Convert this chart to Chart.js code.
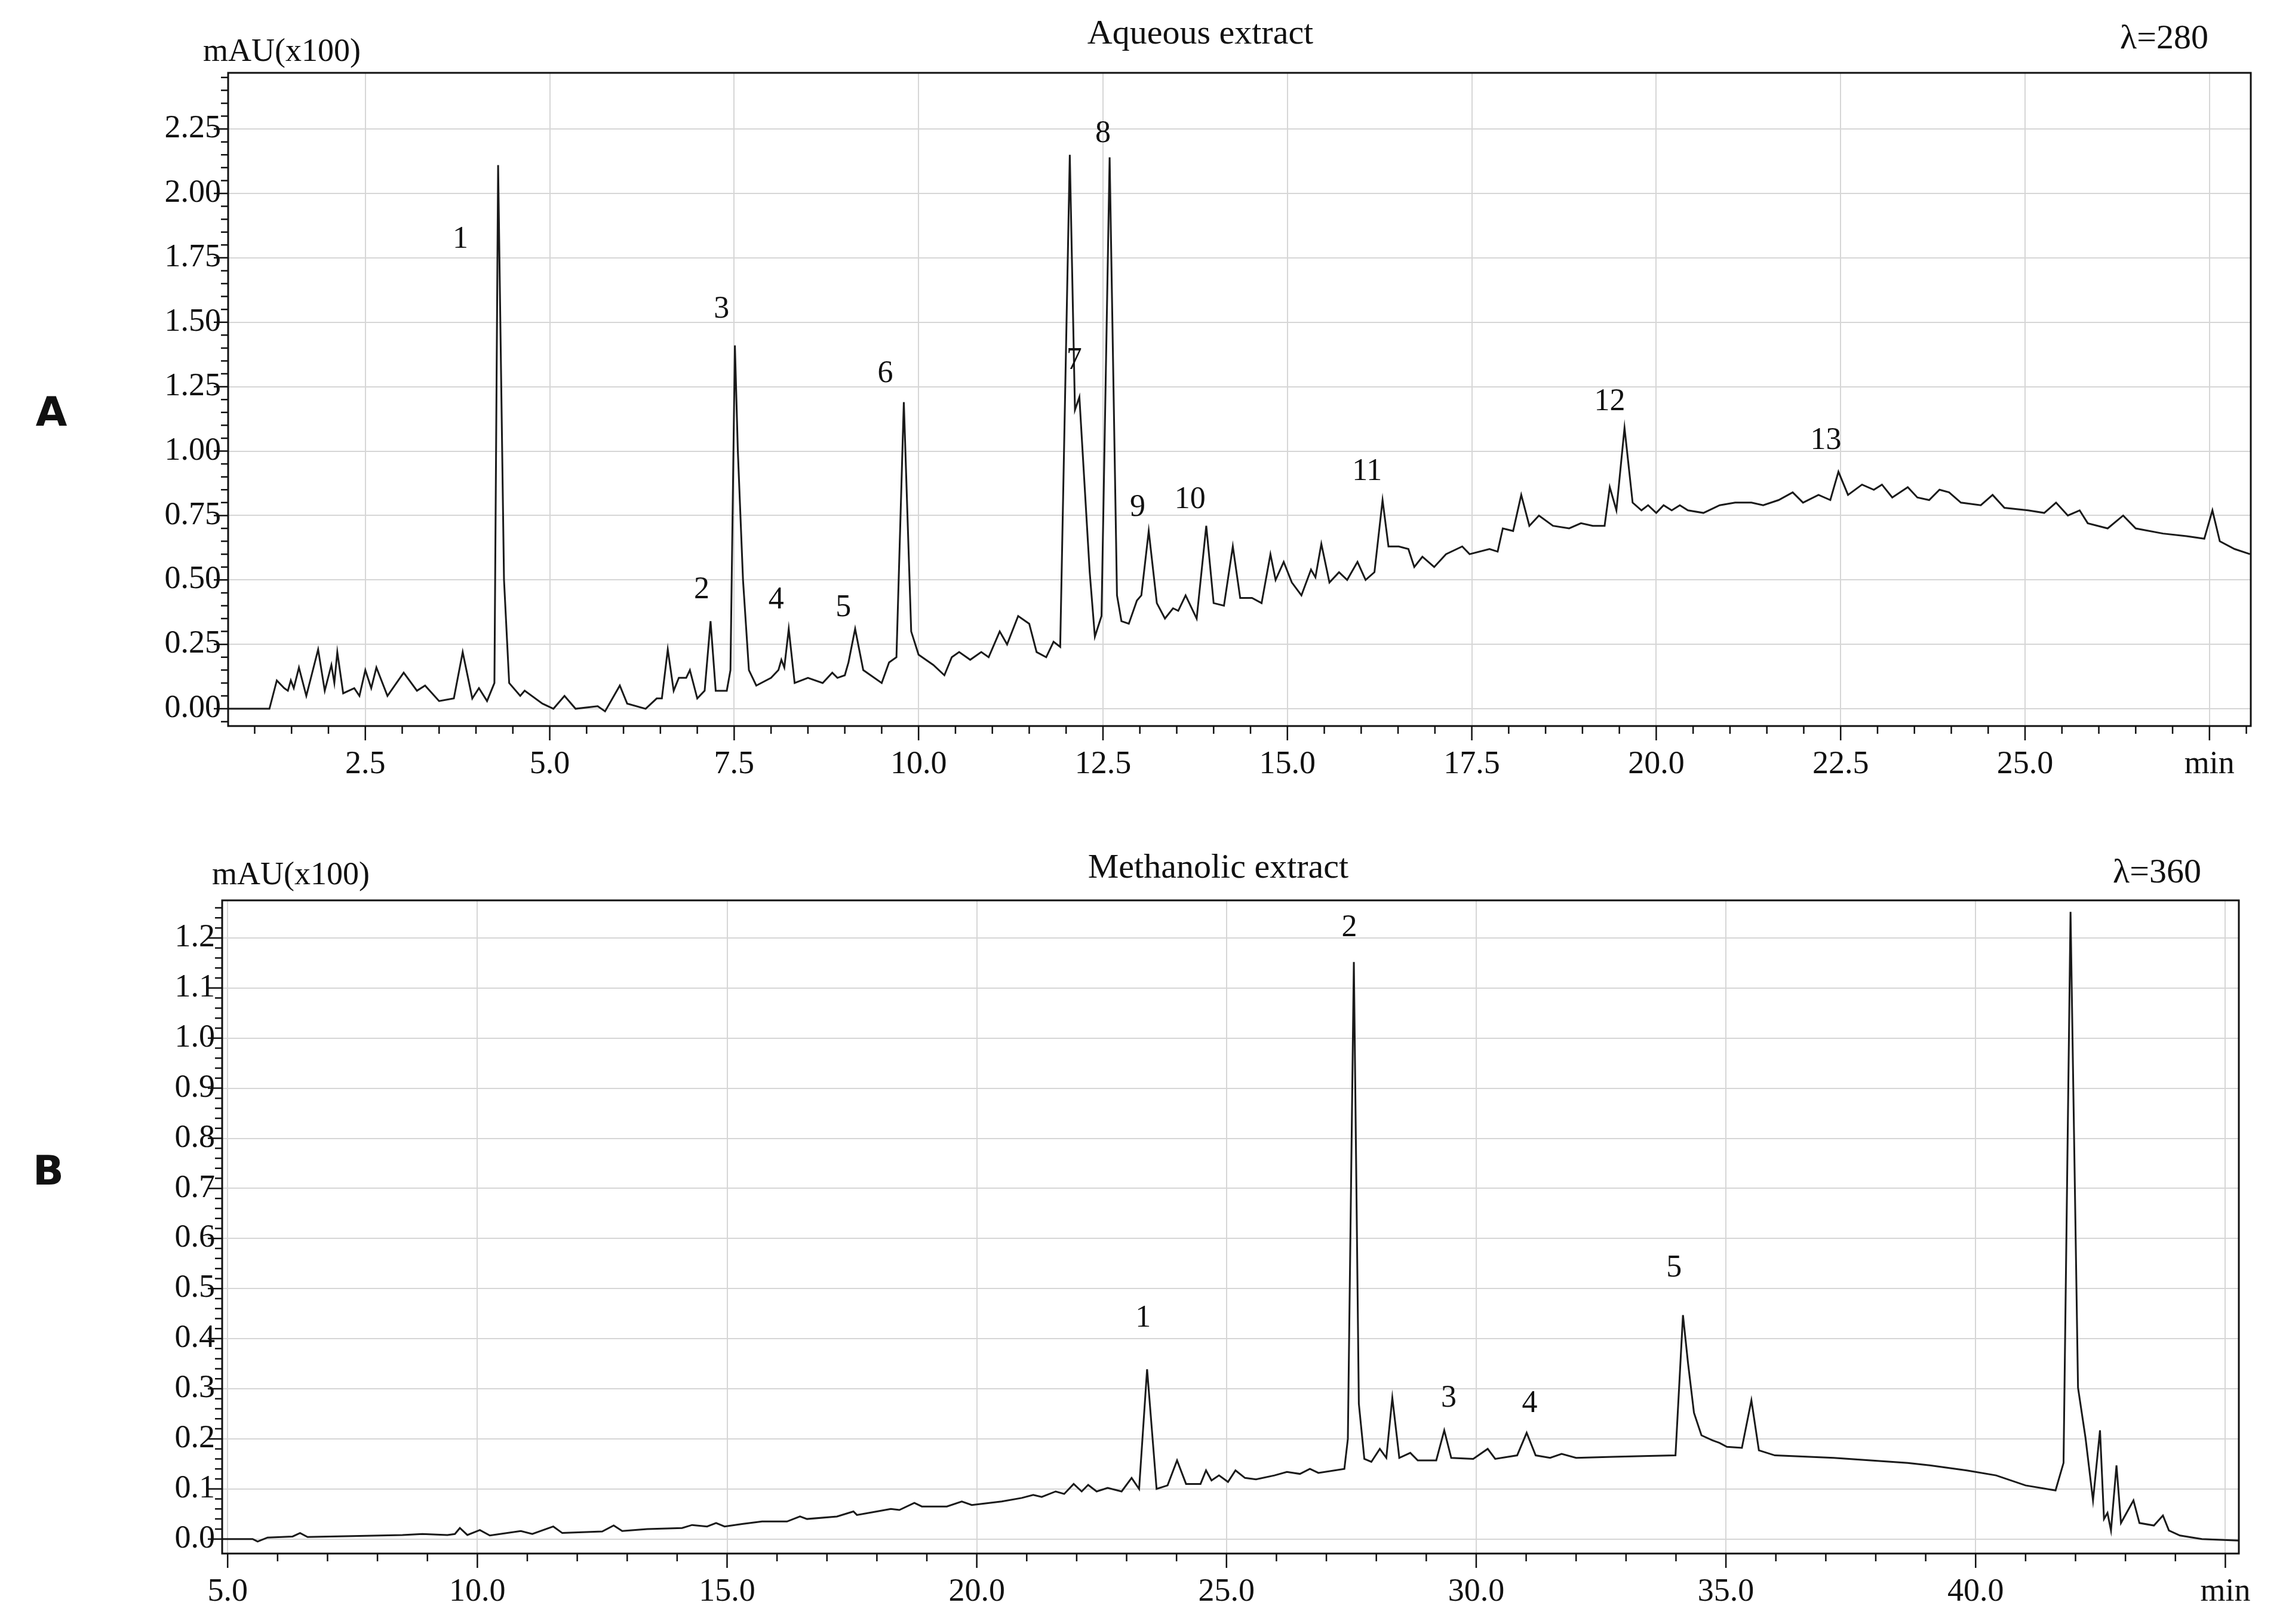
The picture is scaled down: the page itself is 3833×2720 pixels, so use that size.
<!DOCTYPE html>
<html>
<head>
<meta charset="utf-8">
<script src="https://cdn.jsdelivr.net/npm/chart.js@4.4.1/dist/chart.umd.min.js"></script>
<style>
  html, body { margin: 0; padding: 0; background: #fff; }
  #wrapA { position: absolute; left: 0; top: 0; width: 3833px; height: 1380px; }
  #wrapB { position: absolute; left: 0; top: 1380px; width: 3833px; height: 1340px; }
</style>
</head>
<body>
<div id="wrapA"><canvas id="chartA"></canvas></div>
<div id="wrapB"><canvas id="chartB"></canvas></div>
<script>
// retention time (min), absorbance (mAU x100)
const traceA = [
  [0.64,0.0],[1.2,0.0],[1.3,0.11],[1.4,0.08],[1.45,0.07],[1.49,0.11],[1.53,0.08],[1.6,0.16],[1.7,0.05],
  [1.86,0.23],[1.95,0.07],[2.04,0.17],[2.08,0.1],[2.12,0.22],[2.2,0.06],[2.35,0.08],[2.42,0.05],[2.5,0.15],
  [2.58,0.08],[2.65,0.16],[2.8,0.05],[3.02,0.14],[3.2,0.07],[3.31,0.09],[3.5,0.03],[3.7,0.04],[3.82,0.22],
  [3.95,0.04],[4.04,0.08],[4.15,0.03],[4.25,0.1],[4.3,2.11],[4.38,0.5],[4.45,0.1],[4.6,0.05],[4.66,0.07],
  [4.9,0.02],[5.05,0.0],[5.2,0.05],[5.35,0.0],[5.65,0.01],[5.75,-0.01],[5.95,0.09],[6.05,0.02],[6.3,0.0],
  [6.45,0.04],[6.52,0.04],[6.6,0.23],[6.68,0.07],[6.75,0.12],[6.85,0.12],[6.9,0.15],[7.0,0.04],[7.1,0.07],
  [7.18,0.34],[7.25,0.07],[7.4,0.07],[7.45,0.15],[7.51,1.41],[7.55,1.0],[7.62,0.5],[7.7,0.15],[7.8,0.09],
  [8.0,0.12],[8.1,0.15],[8.14,0.19],[8.18,0.16],[8.24,0.31],[8.32,0.1],[8.5,0.12],[8.7,0.1],[8.83,0.14],
  [8.9,0.12],[9.0,0.13],[9.05,0.18],[9.14,0.31],[9.25,0.15],[9.5,0.1],[9.6,0.18],[9.7,0.2],[9.8,1.19],
  [9.9,0.3],[10.0,0.21],[10.2,0.17],[10.35,0.13],[10.45,0.2],[10.55,0.22],[10.7,0.19],[10.85,0.22],
  [10.95,0.2],[11.1,0.3],[11.2,0.25],[11.35,0.36],[11.5,0.33],[11.6,0.22],[11.73,0.2],[11.83,0.26],
  [11.92,0.24],[12.05,2.15],[12.12,1.16],[12.18,1.21],[12.32,0.53],[12.39,0.28],[12.48,0.36],[12.59,2.14],
  [12.69,0.44],[12.75,0.34],[12.85,0.33],[12.96,0.42],[13.02,0.44],[13.12,0.69],[13.23,0.41],[13.34,0.35],
  [13.45,0.39],[13.52,0.38],[13.62,0.44],[13.77,0.35],[13.9,0.71],[14.0,0.41],[14.14,0.4],[14.26,0.63],
  [14.36,0.43],[14.52,0.43],[14.65,0.41],[14.77,0.6],[14.84,0.5],[14.95,0.57],[15.06,0.49],[15.19,0.44],
  [15.32,0.54],[15.38,0.51],[15.46,0.64],[15.57,0.49],[15.7,0.53],[15.81,0.5],[15.95,0.57],[16.06,0.5],
  [16.18,0.53],[16.29,0.81],[16.37,0.63],[16.51,0.63],[16.64,0.62],[16.72,0.55],[16.83,0.59],[16.99,0.55],
  [17.15,0.6],[17.37,0.63],[17.47,0.6],[17.74,0.62],[17.85,0.61],[17.92,0.7],[18.06,0.69],[18.17,0.83],
  [18.28,0.71],[18.41,0.75],[18.6,0.71],[18.82,0.7],[18.98,0.72],[19.14,0.71],[19.3,0.71],[19.37,0.86],
  [19.46,0.77],[19.57,1.09],[19.68,0.8],[19.8,0.77],[19.89,0.79],[20.0,0.76],[20.1,0.79],[20.21,0.77],
  [20.32,0.79],[20.43,0.77],[20.64,0.76],[20.86,0.79],[21.07,0.8],[21.29,0.8],[21.45,0.79],[21.66,0.81],
  [21.85,0.84],[21.99,0.8],[22.2,0.83],[22.36,0.81],[22.47,0.92],[22.6,0.83],[22.79,0.87],[22.95,0.85],
  [23.06,0.87],[23.2,0.82],[23.41,0.86],[23.54,0.82],[23.7,0.81],[23.84,0.85],[23.97,0.84],[24.13,0.8],
  [24.4,0.79],[24.56,0.83],[24.72,0.78],[25.04,0.77],[25.26,0.76],[25.42,0.8],[25.58,0.75],[25.74,0.77],
  [25.85,0.72],[26.12,0.7],[26.33,0.75],[26.5,0.7],[26.87,0.68],[27.19,0.67],[27.43,0.66],[27.54,0.77],
  [27.64,0.65],[27.84,0.62],[28.05,0.6]
];

const traceB = [
  [4.9,0.0],[5.5,0.0],[5.6,-0.005],[5.8,0.003],[6.3,0.005],[6.45,0.012],[6.6,0.004],[7.5,0.006],[8.5,0.008],
  [8.9,0.01],[9.4,0.008],[9.55,0.01],[9.65,0.022],[9.8,0.008],[10.05,0.018],[10.25,0.007],[10.87,0.016],
  [11.1,0.01],[11.52,0.025],[11.7,0.012],[12.5,0.015],[12.73,0.027],[12.9,0.016],[13.4,0.02],[14.1,0.022],
  [14.3,0.028],[14.6,0.025],[14.78,0.032],[14.95,0.025],[15.3,0.03],[15.7,0.035],[16.2,0.035],[16.46,0.045],
  [16.6,0.04],[17.2,0.045],[17.53,0.055],[17.6,0.048],[18.0,0.055],[18.28,0.06],[18.45,0.058],[18.75,0.072],
  [18.9,0.065],[19.4,0.065],[19.7,0.075],[19.9,0.068],[20.5,0.075],[20.9,0.082],[21.13,0.088],[21.3,0.084],
  [21.58,0.095],[21.75,0.09],[21.94,0.11],[22.1,0.095],[22.23,0.108],[22.4,0.095],[22.62,0.102],[22.9,0.095],
  [23.1,0.122],[23.25,0.1],[23.41,0.339],[23.6,0.1],[23.82,0.107],[24.01,0.157],[24.19,0.11],[24.48,0.11],
  [24.59,0.137],[24.7,0.117],[24.85,0.127],[25.03,0.114],[25.18,0.137],[25.37,0.122],[25.59,0.119],
  [25.96,0.127],[26.21,0.134],[26.47,0.13],[26.67,0.14],[26.84,0.132],[27.36,0.14],[27.43,0.2],[27.55,1.152],
  [27.65,0.27],[27.76,0.16],[27.9,0.154],[28.07,0.18],[28.2,0.162],[28.32,0.282],[28.46,0.162],[28.68,0.172],
  [28.83,0.157],[29.2,0.157],[29.36,0.217],[29.5,0.162],[29.94,0.16],[30.23,0.18],[30.38,0.16],[30.82,0.167],
  [31.01,0.212],[31.19,0.167],[31.48,0.162],[31.71,0.17],[32.0,0.162],[32.74,0.164],[33.47,0.166],[33.99,0.167],
  [34.14,0.447],[34.24,0.352],[34.36,0.252],[34.51,0.207],[34.73,0.197],[34.87,0.192],[35.02,0.184],
  [35.32,0.182],[35.51,0.277],[35.66,0.177],[35.98,0.167],[37.16,0.162],[37.9,0.157],[38.64,0.152],
  [39.08,0.147],[39.82,0.137],[40.41,0.127],[41.0,0.107],[41.6,0.097],[41.76,0.152],[41.9,1.252],[42.05,0.302],
  [42.2,0.202],[42.35,0.077],[42.49,0.217],[42.57,0.04],[42.64,0.052],[42.71,0.017],[42.82,0.147],[42.91,0.032],
  [43.16,0.077],[43.28,0.032],[43.57,0.027],[43.75,0.047],[43.87,0.017],[44.09,0.007],[44.53,0.0],[45.27,-0.003]
];

const xTicksA = [2.5, 5.0, 7.5, 10.0, 12.5, 15.0, 17.5, 20.0, 22.5, 25.0, 27.5];
const yTicksA = [0, 0.25, 0.5, 0.75, 1.0, 1.25, 1.5, 1.75, 2.0, 2.25];
const xTicksB = [5, 10, 15, 20, 25, 30, 35, 40, 45];
const yTicksB = [0, 0.1, 0.2, 0.3, 0.4, 0.5, 0.6, 0.7, 0.8, 0.9, 1.0, 1.1, 1.2];

// peak number labels: [text, time, height]
const peaksA = [
  ["1",3.79,1.82],["2",7.06,0.46],["3",7.33,1.55],["4",8.07,0.42],["5",8.98,0.39],["6",9.55,1.3],
  ["7",12.11,1.35],["8",12.5,2.23],["9",12.97,0.78],["10",13.68,0.81],["11",16.08,0.92],
  ["12",19.37,1.19],["13",22.3,1.04]
];
const peaksB = [["1",23.33,0.44],["2",27.46,1.22],["3",29.45,0.28],["4",31.07,0.27],["5",33.96,0.54]];

const SERIF = "'Liberation Serif', 'DejaVu Serif', serif";

function framePlugin(cfg) {
  return {
    id: "frame",
    afterDraw(chart) {
      const { ctx, chartArea: a, scales } = chart;
      const xs = scales.x, ys = scales.y;
      ctx.save();
      ctx.strokeStyle = "#111";
      ctx.lineWidth = 3;
      ctx.strokeRect(a.left, a.top, a.right - a.left, a.bottom - a.top);
      // tick marks
      ctx.lineWidth = 2.5;
      ctx.beginPath();
      for (let v = cfg.xMinorStart; v <= xs.max + 1e-9; v += cfg.xMinor) {
        const px = xs.getPixelForValue(v);
        if (px < a.left || px > a.right) continue;
        const major = cfg.xTicks.some((t) => Math.abs(t - v) < 1e-6);
        ctx.moveTo(px, a.bottom);
        ctx.lineTo(px, a.bottom + (major ? 24 : 13));
      }
      for (let v = cfg.yMinorStart; v <= ys.max + 1e-9; v += cfg.yMinor) {
        const py = ys.getPixelForValue(v);
        if (py < a.top || py > a.bottom) continue;
        const major = cfg.yTicks.some((t) => Math.abs(t - v) < 1e-6);
        ctx.moveTo(a.left, py);
        ctx.lineTo(a.left - (major ? 24 : 12), py);
      }
      ctx.stroke();
      // texts
      ctx.fillStyle = "#111";
      ctx.textBaseline = "middle";
      ctx.font = `58px ${SERIF}`;
      ctx.textAlign = "center";
      ctx.fillText(cfg.title, cfg.titleX, cfg.titleY);
      ctx.fillText(cfg.lambda, cfg.lambdaX, cfg.titleY + 8);
      ctx.font = `54px ${SERIF}`;
      ctx.textAlign = "left";
      ctx.fillText("mAU(x100)", cfg.unitX, cfg.unitY);
      ctx.font = `bold 68px 'DejaVu Sans', sans-serif`;
      ctx.textAlign = "center";
      ctx.fillText(cfg.letter, cfg.letterX, cfg.letterY);
      ctx.font = `52px ${SERIF}`;
      cfg.peaks.forEach(([t, x, y]) => {
        ctx.fillText(t, xs.getPixelForValue(x), ys.getPixelForValue(y));
      });
      ctx.restore();
    },
  };
}

function makeChart(id, trace, opt) {
  const tickIn = (list) => (scale) => { scale.ticks = list.map((v) => ({ value: v })); };
  return new Chart(document.getElementById(id), {
    type: "line",
    data: {
      datasets: [{
        data: trace.map(([x, y]) => ({ x, y })),
        borderColor: "#1a1a1a",
        borderWidth: 3,
        pointRadius: 0,
        tension: 0,
        fill: false,
      }],
    },
    options: {
      responsive: true,
      maintainAspectRatio: false,
      animation: false,
      layout: { padding: { left: 0, top: opt.padTop, right: opt.padRight, bottom: 0 } },
      plugins: { legend: { display: false }, tooltip: { enabled: false } },
      scales: {
        x: {
          type: "linear",
          min: opt.xMin,
          max: opt.xMax,
          afterBuildTicks: tickIn(opt.xTicks),
          afterFit: (s) => { s.height = opt.xHeight; },
          grid: { color: "#d6d6d6", lineWidth: 2, drawTicks: false },
          border: { display: false },
          ticks: {
            padding: 32,
            color: "#111",
            font: { family: SERIF, size: 54 },
            callback: (v) => (v === opt.xTicks[opt.xTicks.length - 1] ? "min" : Number(v).toFixed(1)),
          },
        },
        y: {
          min: opt.yMin,
          max: opt.yMax,
          afterBuildTicks: tickIn(opt.yTicks),
          afterFit: (s) => { s.width = opt.yWidth; },
          grid: { color: "#d6d6d6", lineWidth: 2, drawTicks: false },
          border: { display: false },
          ticks: {
            padding: 12,
            color: "#111",
            font: { family: SERIF, size: 54 },
            callback: (v) => Number(v).toFixed(opt.yDigits),
          },
        },
      },
    },
    plugins: [framePlugin(opt)],
  });
}

makeChart("chartA", traceA, {
  xMin: 0.64, xMax: 28.06, yMin: -0.067, yMax: 2.468,
  xTicks: xTicksA, yTicks: yTicksA, yDigits: 2,
  xMinor: 0.5, xMinorStart: 1.0, yMinor: 0.05, yMinorStart: -0.05,
  padTop: 122, padRight: 64, xHeight: 164, yWidth: 382,
  title: "Aqueous extract", titleX: 2010, titleY: 58, lambda: "λ=280", lambdaX: 3624,
  unitX: 340, unitY: 88, letter: "A", letterX: 86, letterY: 695, peaks: peaksA,
});

makeChart("chartB", traceB, {
  xMin: 4.89, xMax: 45.27, yMin: -0.029, yMax: 1.275,
  xTicks: xTicksB, yTicks: yTicksB, yDigits: 1,
  xMinor: 1, xMinorStart: 5, yMinor: 0.02, yMinorStart: 0,
  padTop: 128, padRight: 84, xHeight: 118, yWidth: 372,
  title: "Methanolic extract", titleX: 2040, titleY: 75, lambda: "λ=360", lambdaX: 3612,
  unitX: 355, unitY: 87, letter: "B", letterX: 81, letterY: 586, peaks: peaksB,
});
</script>
</body>
</html>
